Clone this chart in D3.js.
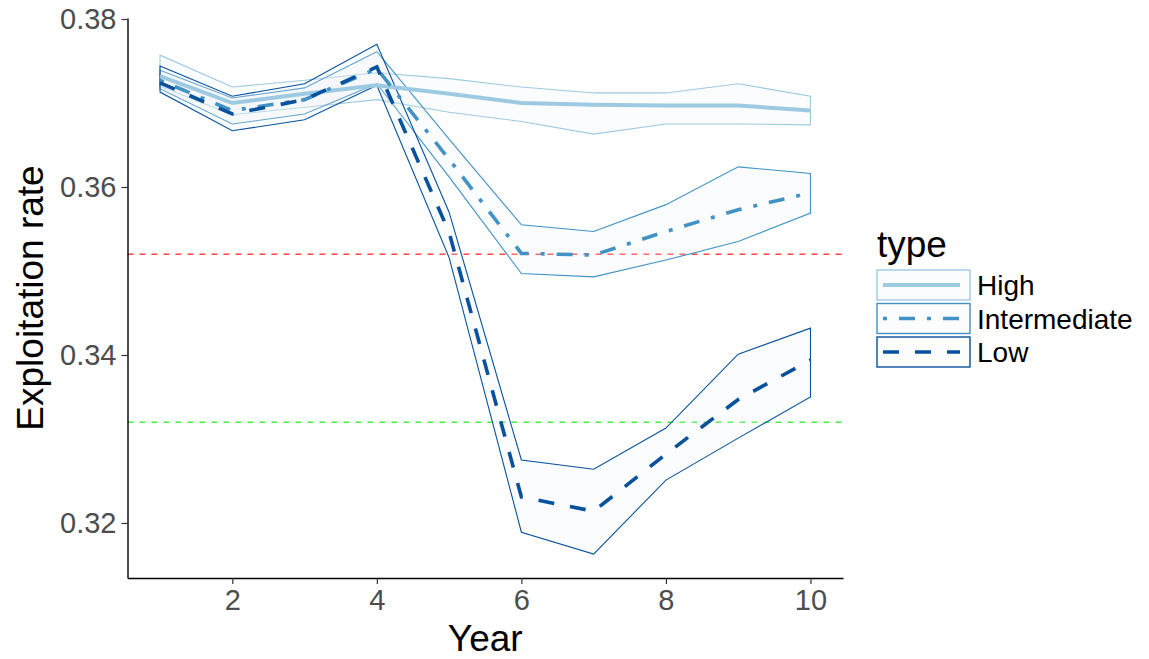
<!DOCTYPE html>
<html>
<head>
<meta charset="utf-8">
<script src="https://cdn.jsdelivr.net/npm/d3@7"></script>
<style>
  body { margin: 0; background: #fff; }
  text { font-family: "Liberation Sans", Arial, sans-serif; }
</style>
</head>
<body>
<svg id="chart" width="1149" height="659"></svg>
<script>
// Exploitation rate by year, mean and interval band per type
const years = [1, 2, 3, 4, 5, 6, 7, 8, 9, 10];

const highMean  = [0.3732, 0.3700, 0.3711, 0.3721, 0.3711, 0.3700, 0.3698, 0.3697, 0.3697, 0.3691];
const highUpper = [0.3757, 0.3719, 0.3727, 0.3736, 0.3729, 0.3719, 0.3712, 0.3712, 0.3723, 0.3708];
const highLower = [0.3720, 0.3686, 0.3695, 0.3704, 0.3689, 0.3678, 0.3663, 0.3675, 0.3675, 0.3674];

const intMean  = [0.3727, 0.3691, 0.3704, 0.3741, 0.3633, 0.3521, 0.3519, 0.3547, 0.3573, 0.3593];
const intUpper = [0.3739, 0.3706, 0.3718, 0.3761, 0.3657, 0.3555, 0.3547, 0.3579, 0.3624, 0.3616];
const intLower = [0.3717, 0.3675, 0.3687, 0.3723, 0.3612, 0.3497, 0.3493, 0.3513, 0.3535, 0.3569];

const lowMean  = [0.3724, 0.3687, 0.3704, 0.3743, 0.3546, 0.3231, 0.3214, 0.3282, 0.3347, 0.3394];
const lowUpper = [0.3744, 0.3708, 0.3723, 0.3770, 0.3570, 0.3275, 0.3264, 0.3313, 0.3401, 0.3432];
const lowLower = [0.3713, 0.3667, 0.3680, 0.3721, 0.3516, 0.3189, 0.3163, 0.3251, 0.3301, 0.3350];

const types = ["High", "Intermediate", "Low"];
const typeColors = ["#9ECAE1", "#4292C6", "#08519C"];
const typeDash = [null, "4 12 16 12", "16 16"];
const typeWidth = [4, 3.6, 3.6];

const refValues = [0.352, 0.332];
const refColors = ["#FF4545", "#45EE45"];

const yTicks = [0.32, 0.34, 0.36, 0.38];
const xTicks = [2, 4, 6, 8, 10];

const series = [
  { mean: highMean, upper: highUpper, lower: highLower },
  { mean: intMean,  upper: intUpper,  lower: intLower },
  { mean: lowMean,  upper: lowUpper,  lower: lowLower }
];

const svg = d3.select("#chart");
const panel = { left: 127.5, right: 843, top: 18, bottom: 578 };

const x = d3.scaleLinear().domain([0.55, 10.45]).range([panel.left, panel.right]);
const y = d3.scaleLinear().domain([0.31345, 0.38012]).range([panel.bottom, panel.top]);

svg.append("rect").attr("width", 1149).attr("height", 659).attr("fill", "#fff");

// reference levels
svg.selectAll(".ref").data(refValues).enter().append("line")
  .attr("x1", panel.left).attr("x2", panel.right)
  .attr("y1", d => y(d)).attr("y2", d => y(d))
  .attr("stroke", (d, i) => refColors[i])
  .attr("stroke-width", 1.5)
  .attr("stroke-dasharray", "6 6");

// interval bands
const area = d3.area()
  .x((d, i) => x(years[i]))
  .y0(d => y(d[0]))
  .y1(d => y(d[1]));

series.forEach((s, k) => {
  const pts = years.map((yr, i) => [s.lower[i], s.upper[i]]);
  svg.append("path")
    .attr("d", area(pts) + "Z")
    .attr("fill", "#eef2f8")
    .attr("fill-opacity", 0.22)
    .attr("stroke", typeColors[k])
    .attr("stroke-width", 1.1)
    .attr("stroke-linejoin", "miter");
});

// mean lines
const line = d3.line().x((d, i) => x(years[i])).y(d => y(d));
series.forEach((s, k) => {
  svg.append("path")
    .attr("d", line(s.mean))
    .attr("fill", "none")
    .attr("stroke", typeColors[k])
    .attr("stroke-width", typeWidth[k])
    .attr("stroke-dasharray", typeDash[k]);
});

// axes
const yAxis = d3.axisLeft(y).tickValues(yTicks).tickFormat(d3.format(".2f"))
  .tickSizeInner(6).tickSizeOuter(0).tickPadding(5);
const xAxis = d3.axisBottom(x).tickValues(xTicks).tickFormat(d3.format("d"))
  .tickSizeInner(6).tickSizeOuter(0).tickPadding(5);

const gy = svg.append("g").attr("transform", `translate(${panel.left},0)`).call(yAxis);
const gx = svg.append("g").attr("transform", `translate(0,${panel.bottom})`).call(xAxis);
[gx, gy].forEach(g => {
  g.select(".domain").attr("stroke", "#000").attr("stroke-width", 1.4);
  g.selectAll(".tick line").attr("stroke", "#333").attr("stroke-width", 1.2);
  g.selectAll(".tick text").attr("fill", "#4D4D4D").style("font-size", "29px")
    .style("font-family", '"Liberation Sans", Arial, sans-serif');
});

// axis titles
svg.append("text").attr("x", x(5.5)).attr("y", 651)
  .attr("text-anchor", "middle").style("font-size", "37px").attr("fill", "#000").text("Year");
svg.append("text").attr("transform", `translate(43,${(panel.top + panel.bottom) / 2}) rotate(-90)`)
  .attr("text-anchor", "middle").style("font-size", "37px").attr("fill", "#000").text("Exploitation rate");

// legend
const lg = svg.append("g").attr("transform", "translate(877,0)");
lg.append("text").attr("x", 0).attr("y", 257).style("font-size", "37px").attr("fill", "#000").text("type");
const keyW = 93, keyH = 30, keyTop = 270, keyStep = 33.5;
types.forEach((t, k) => {
  const ky = keyTop + k * keyStep;
  lg.append("rect").attr("x", 0).attr("y", ky).attr("width", keyW).attr("height", keyH)
    .attr("fill", "#fbfcfe").attr("stroke", typeColors[k]).attr("stroke-width", 1.4);
  lg.append("line").attr("x1", 6).attr("x2", keyW - 10).attr("y1", ky + keyH / 2).attr("y2", ky + keyH / 2)
    .attr("stroke", typeColors[k]).attr("stroke-width", typeWidth[k])
    .attr("stroke-dasharray", typeDash[k]);
  lg.append("text").attr("x", keyW + 7).attr("y", ky + keyH / 2 + 10)
    .style("font-size", "28px").attr("fill", "#000").text(t);
});
</script>
</body>
</html>
